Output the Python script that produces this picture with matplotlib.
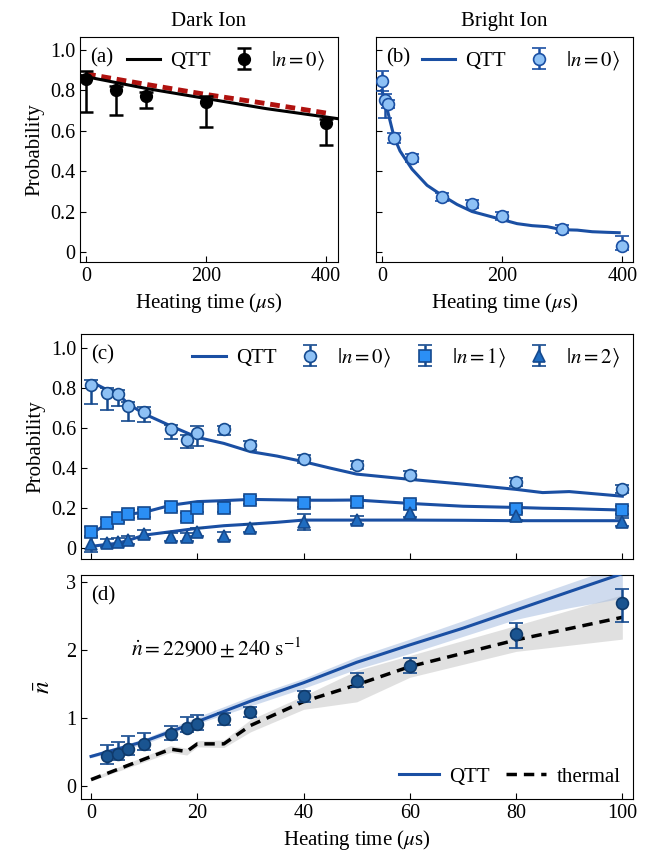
import numpy as np
import matplotlib
matplotlib.use('Agg')
import matplotlib.pyplot as plt

plt.rcParams['font.family'] = ['Liberation Serif', 'DejaVu Serif']
plt.rcParams['mathtext.fontset'] = 'stix'
plt.rcParams['font.size'] = 14

# ---- panel (a): dark ion ----
a_t = [0, 50, 100, 200, 400]
a_p = [0.855, 0.80, 0.774, 0.741, 0.637]
a_lo = [0.16, 0.12, 0.063, 0.12, 0.105]
a_hi = [0.04, 0.02, 0.02, 0.033, 0.02]
a_qtt_t = [-10, 0, 100, 200, 300, 420]
a_qtt = [0.875, 0.868, 0.81, 0.76, 0.71, 0.66]
a_ref_t = [0, 100, 200, 300, 400]
a_ref = [0.882, 0.83, 0.78, 0.735, 0.688]

# ---- panel (b): bright ion ----
b_t = [0, 5, 10, 20, 50, 100, 150, 200, 300, 400]
b_p = [0.848, 0.752, 0.731, 0.565, 0.466, 0.273, 0.236, 0.177, 0.114, 0.03]
b_lo = [0.05, 0.09, 0.02, 0.025, 0.02, 0.02, 0.02, 0.02, 0.02, 0.02]
b_hi = [0.05, 0.03, 0.02, 0.025, 0.02, 0.02, 0.02, 0.02, 0.02, 0.05]
b_qtt_t = [0, 5, 10, 20, 30, 50, 75, 100, 125, 150, 175, 200, 225, 250, 275,
           300, 325, 350, 375, 395]
b_qtt = [0.80, 0.74, 0.69, 0.57, 0.50, 0.41, 0.33, 0.28, 0.235, 0.20, 0.18,
         0.16, 0.14, 0.13, 0.125, 0.11, 0.108, 0.10, 0.097, 0.095]

# ---- panel (c): Fock populations ----
c_t = [0, 3, 5, 7, 10, 15, 18, 20, 25, 30, 40, 50, 60, 80, 100]
c_n0 = [0.814, 0.776, 0.769, 0.709, 0.681, 0.593, 0.540, 0.576, 0.595, 0.513,
        0.447, 0.413, 0.365, 0.329, 0.294]
c_n0_lo = [0.096, 0.087, 0.06, 0.074, 0.05, 0.05, 0.042, 0.066, 0.03, 0.023,
           0.02, 0.02, 0.02, 0.02, 0.02]
c_n0_hi = [0.025, 0.021, 0.02, 0.022, 0.022, 0.022, 0.025, 0.034, 0.015, 0.022,
           0.02, 0.02, 0.02, 0.02, 0.02]
c_n1 = [0.08, 0.125, 0.15, 0.169, 0.178, 0.208, 0.158, 0.199, 0.203, 0.239,
        0.226, 0.232, 0.222, 0.194, 0.191]
c_n1_err = [0.025, 0.02, 0.02, 0.02, 0.02, 0.02, 0.02, 0.02, 0.02, 0.02,
            0.02, 0.02, 0.02, 0.02, 0.02]
c_n2 = [0.02, 0.025, 0.03, 0.04, 0.07, 0.055, 0.055, 0.083, 0.061, 0.10,
        0.133, 0.141, 0.174, 0.16, 0.133]
c_n2_err = [0.04, 0.02, 0.02, 0.02, 0.02, 0.02, 0.02, 0.02, 0.02, 0.02,
            0.04, 0.02, 0.02, 0.02, 0.02]
c_qtt_t = [0, 3, 5, 7, 10, 15, 20, 25, 30, 35, 40, 45, 50, 60, 70, 80, 85, 90, 100]
c_qtt0 = [0.83, 0.79, 0.77, 0.72, 0.67, 0.61, 0.553, 0.523, 0.482, 0.46, 0.432,
          0.40, 0.37, 0.344, 0.32, 0.294, 0.278, 0.283, 0.26]
c_qtt1 = [0.075, 0.12, 0.15, 0.17, 0.18, 0.215, 0.233, 0.238, 0.244, 0.242, 0.24,
          0.24, 0.241, 0.224, 0.21, 0.204, 0.20, 0.198, 0.191]
c_qtt2 = [0.01, 0.02, 0.025, 0.04, 0.066, 0.083, 0.10, 0.113, 0.121, 0.13, 0.141,
          0.141, 0.141, 0.141, 0.14, 0.138, 0.138, 0.138, 0.138]

# ---- panel (d): mean phonon number ----
d_t = [3, 5, 7, 10, 15, 18, 20, 25, 30, 40, 50, 60, 80, 100]
d_nbar = [0.449, 0.478, 0.546, 0.624, 0.771, 0.863, 0.912, 0.985, 1.098, 1.327,
          1.552, 1.772, 2.231, 2.685]
d_hi = [0.605, 0.649, 0.746, 0.78, 0.888, 1.015, 1.044, 1.073, 1.17, 1.405,
        1.669, 1.889, 2.401, 2.89]
d_lo = [0.332, 0.39, 0.46, 0.527, 0.683, 0.805, 0.83, 0.902, 1.024, 1.244,
        1.464, 1.66, 2.035, 2.41]
d_qtt_t = [0, 10, 20, 30, 40, 50, 60, 70, 80, 90, 100]
d_qtt = [0.44, 0.66, 0.95, 1.25, 1.52, 1.82, 2.075, 2.32, 2.587, 2.855, 3.12]
d_qtt_up = [0.47, 0.70, 1.02, 1.32, 1.585, 1.90, 2.16, 2.43, 2.71, 2.98, 3.25]
d_qtt_dn = [0.42, 0.62, 0.92, 1.18, 1.44, 1.72, 1.95, 2.20, 2.45, 2.62, 2.76]
d_th_t = [0, 5, 10, 15, 18, 20, 25, 30, 40, 50, 60, 80, 100]
d_th = [0.10, 0.25, 0.40, 0.546, 0.512, 0.624, 0.624, 0.893, 1.244, 1.49, 1.757,
        2.148, 2.48]
d_th_up = [0.12, 0.28, 0.44, 0.60, 0.56, 0.67, 0.68, 0.98, 1.33, 1.70, 1.92,
           2.36, 2.81]
d_th_dn = [0.08, 0.22, 0.36, 0.50, 0.46, 0.58, 0.57, 0.80, 1.13, 1.24, 1.60,
           1.98, 2.16]

line_blue = '#1a4fa3'
edge_blue = '#154a8f'

fig = plt.figure(figsize=(6.53, 8.59), dpi=100)
ax_a = fig.add_axes([0.1225, 0.695, 0.395, 0.262])
ax_b = fig.add_axes([0.5758, 0.695, 0.3936, 0.262])
ax_c = fig.add_axes([0.124, 0.3492, 0.8453, 0.262])
ax_d = fig.add_axes([0.124, 0.0698, 0.8453, 0.2608])

for ax in (ax_a, ax_b, ax_c, ax_d):
    ax.tick_params(direction='in', length=4, labelsize=14.5)

# (a)
ax_a.plot(a_ref_t, a_ref, ls=(0, (2, 1.2)), color='#b0120f', lw=3.5, zorder=2)
ax_a.plot(a_qtt_t, a_qtt, color='black', lw=2.2, label='QTT', zorder=3)
ax_a.errorbar(a_t, a_p, yerr=[a_lo, a_hi], fmt='o', color='black', ms=8.5,
              capsize=5, elinewidth=1.8, capthick=1.8, label=r'$|n=0\rangle$', zorder=4)
ax_a.set_xlim(-10, 420)
ax_a.set_ylim(-0.05, 1.065)
ax_a.set_xticks([0, 200, 400])
ax_a.set_yticks([0, 0.2, 0.4, 0.6, 0.8, 1.0])
ax_a.set_yticklabels(['0', '0.2', '0.4', '0.6', '0.8', '1.0'])
ax_a.set_ylabel('Probability', fontsize=15)
ax_a.set_xlabel(r'Heating time ($\mu$s)', fontsize=15)
ax_a.set_title('Dark Ion', fontsize=15, pad=8)
ax_a.text(0.04, 0.95, '(a)', transform=ax_a.transAxes, va='top', fontsize=15)
ax_a.legend(loc='upper right', ncol=2, frameon=False, fontsize=15,
            handlelength=1.6, columnspacing=0.8, handletextpad=0.5,
            borderaxespad=0.2)

# (b)
ax_b.plot(b_qtt_t, b_qtt, color=line_blue, lw=2.2, label='QTT', zorder=3)
ax_b.errorbar(b_t, b_p, yerr=[b_lo, b_hi], fmt='o', mfc='#8ec1f5', mec=line_blue,
              ecolor=line_blue, ms=8.5, mew=1.2, capsize=5, elinewidth=1.8,
              capthick=1.8, label=r'$|n=0\rangle$', zorder=4)
ax_b.set_xlim(-10, 418)
ax_b.set_ylim(-0.05, 1.065)
ax_b.set_xticks([0, 200, 400])
ax_b.set_yticks([0, 0.2, 0.4, 0.6, 0.8, 1.0])
ax_b.set_yticklabels([])
ax_b.set_xlabel(r'Heating time ($\mu$s)', fontsize=15)
ax_b.set_title('Bright Ion', fontsize=15, pad=8)
ax_b.text(0.04, 0.95, '(b)', transform=ax_b.transAxes, va='top', fontsize=15)
ax_b.legend(loc='upper right', ncol=2, frameon=False, fontsize=15,
            handlelength=1.6, columnspacing=0.8, handletextpad=0.5,
            borderaxespad=0.2)

# (c)
ax_c.plot(c_qtt_t, c_qtt0, color=line_blue, lw=2.2, label='QTT', zorder=3)
ax_c.plot(c_qtt_t, c_qtt1, color=line_blue, lw=2.2, zorder=3)
ax_c.plot(c_qtt_t, c_qtt2, color=line_blue, lw=2.2, zorder=3)
kw = dict(mec=edge_blue, ecolor=edge_blue, ms=8.5, mew=1.2, capsize=5,
          elinewidth=1.8, capthick=1.8, zorder=4)
ax_c.errorbar(c_t, c_n0, yerr=[c_n0_lo, c_n0_hi], fmt='o', mfc='#8ec1f5',
              label=r'$|n=0\rangle$', **kw)
ax_c.errorbar(c_t, c_n1, yerr=c_n1_err, fmt='s', mfc='#2b8ff5',
              label=r'$|n=1\rangle$', **kw)
ax_c.errorbar(c_t, c_n2, yerr=c_n2_err, fmt='^', mfc='#1f6cc0',
              label=r'$|n=2\rangle$', **kw)
ax_c.set_xlim(-1.9, 102)
ax_c.set_ylim(-0.053, 1.068)
ax_c.set_xticks([0, 20, 40, 60, 80, 100])
ax_c.set_xticklabels([])
ax_c.set_yticks([0, 0.2, 0.4, 0.6, 0.8, 1.0])
ax_c.set_yticklabels(['0', '0.2', '0.4', '0.6', '0.8', '1.0'])
ax_c.set_ylabel('Probability', fontsize=15)
ax_c.text(0.018, 0.95, '(c)', transform=ax_c.transAxes, va='top', fontsize=15)
ax_c.legend(loc='upper right', ncol=4, frameon=False, fontsize=15,
            handlelength=1.6, columnspacing=0.8, handletextpad=0.5,
            borderaxespad=0.2)

# (d)
ax_d.fill_between(d_th_t, d_th_dn, d_th_up, color='#d9d9d9', alpha=0.8, lw=0, zorder=1)
ax_d.fill_between(d_qtt_t, d_qtt_dn, d_qtt_up, color='#a9bfe0', alpha=0.55, lw=0, zorder=1)
ax_d.plot(d_qtt_t, d_qtt, color=line_blue, lw=2.2, label='QTT', zorder=3)
ax_d.plot(d_th_t, d_th, color='black', lw=2.5, ls=(0, (3, 2)), label='thermal', zorder=3)
d_err = [np.array(d_nbar) - np.array(d_lo), np.array(d_hi) - np.array(d_nbar)]
ax_d.errorbar(d_t, d_nbar, yerr=d_err, fmt='o', mfc='#1a5490', mec='#0f3a6b',
              ecolor='#154a8f', ms=8.5, mew=1.2, capsize=5, elinewidth=1.8,
              capthick=1.8, zorder=4)
ax_d.set_xlim(-1.9, 102)
ax_d.set_ylim(-0.185, 3.1)
ax_d.set_xticks([0, 20, 40, 60, 80, 100])
ax_d.set_yticks([0, 1, 2, 3])
ax_d.set_ylabel(r'$\bar{n}$', fontsize=18, labelpad=8)
ax_d.set_xlabel(r'Heating time ($\mu$s)', fontsize=15)
ax_d.text(0.018, 0.95, '(d)', transform=ax_d.transAxes, va='top', fontsize=15)
ax_d.text(0.09, 0.64, r'$\dot{n} = 22900 \pm 240\ \mathrm{s}^{-1}$',
          transform=ax_d.transAxes, fontsize=15.5)
ax_d.legend(loc='lower right', ncol=2, frameon=False, fontsize=15,
            handlelength=1.9, columnspacing=0.8, handletextpad=0.5,
            borderaxespad=0.2)

fig.savefig('out.png', dpi=100)
